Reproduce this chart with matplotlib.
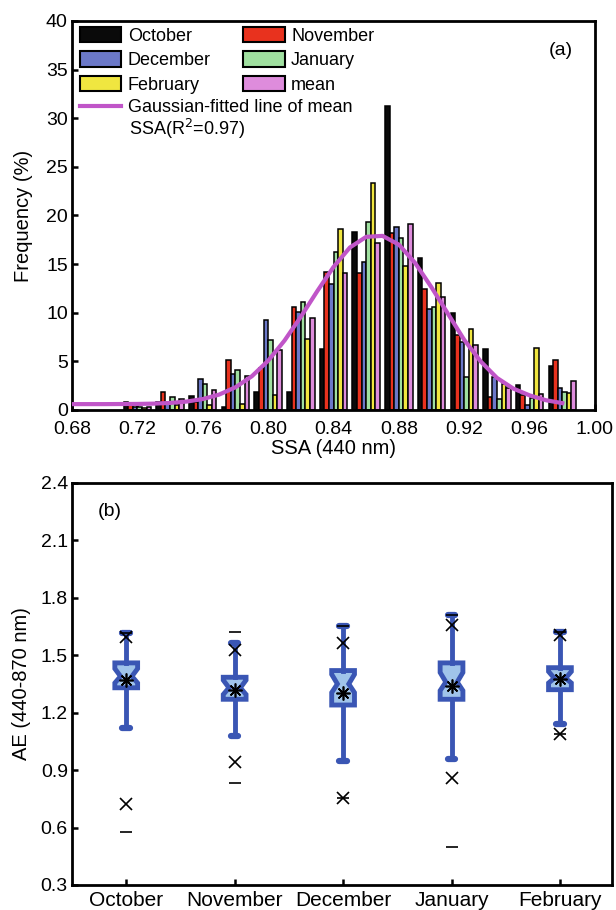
import numpy as np
import matplotlib
matplotlib.use("Agg")
import matplotlib.pyplot as plt
from matplotlib.patches import Patch
from matplotlib.lines import Line2D

plt.rcParams['font.family'] = ['Liberation Sans', 'DejaVu Sans']

# -------------------------
# Panel (a) data: SSA histogram (%)
# -------------------------
ssa_bins = [0.72, 0.74, 0.76, 0.78, 0.80, 0.82, 0.84, 0.86, 0.88, 0.90, 0.92, 0.94, 0.96, 0.98]
freq_oct = [0.8, 0.8, 1.4, 0.3, 1.8, 1.8, 6.3, 18.3, 31.3, 15.6, 10.0, 6.3, 2.6, 4.5]
freq_nov = [0.6, 1.8, 0.8, 5.1, 4.3, 10.6, 14.2, 14.1, 18.2, 12.4, 7.7, 1.3, 1.5, 5.1]
freq_dec = [0.3, 0.8, 3.2, 3.7, 9.3, 10.1, 13.0, 15.2, 18.8, 10.4, 7.0, 3.4, 0.5, 2.3]
freq_jan = [0.3, 1.3, 2.7, 4.1, 7.2, 11.1, 16.2, 19.3, 17.7, 10.6, 3.4, 1.1, 1.2, 1.8]
freq_feb = [0.2, 0.5, 0.5, 0.6, 1.5, 7.3, 18.6, 23.3, 14.8, 13.1, 8.3, 2.7, 6.4, 1.7]
freq_mean = [0.3, 1.1, 2.1, 3.5, 6.2, 9.5, 14.1, 17.2, 19.1, 11.6, 6.7, 2.3, 1.6, 3.0]

# gaussian fit of mean, every 0.01 from 0.68 to 0.98
gauss_y = [0.6, 0.6, 0.6, 0.61, 0.62, 0.65, 0.72, 0.86, 1.12, 1.58,
           2.33, 3.46, 5.06, 7.13, 9.58, 12.2, 14.7, 16.7, 17.8, 17.9,
           17.0, 15.1, 12.6, 9.9, 7.2, 5.0, 3.3, 2.2, 1.5, 1.0, 0.7]
gauss_x = np.linspace(0.68, 0.98, len(gauss_y))

# -------------------------
# Panel (b) data: AE box statistics
# -------------------------
months = ['October', 'November', 'December', 'January', 'February']
ae_q1 = [1.33, 1.27, 1.24, 1.27, 1.32]
ae_q3 = [1.46, 1.385, 1.42, 1.46, 1.435]
ae_med = [1.39, 1.33, 1.35, 1.36, 1.38]
ae_ci_lo = [1.355, 1.295, 1.305, 1.315, 1.355]
ae_ci_hi = [1.43, 1.37, 1.40, 1.41, 1.415]
ae_whis_lo = [1.12, 1.08, 0.945, 0.957, 1.14]
ae_whis_hi = [1.615, 1.563, 1.651, 1.712, 1.621]
ae_mean = [1.37, 1.317, 1.305, 1.34, 1.378]
ae_p1 = [0.722, 0.94, 0.752, 0.86, 1.088]
ae_p99 = [1.595, 1.529, 1.566, 1.66, 1.604]
ae_min = [0.578, 0.834, 0.752, 0.497, 1.088]
ae_max = [1.615, 1.621, 1.651, 1.712, 1.621]

# -------------------------
# Figure
# -------------------------
fig = plt.figure(figsize=(6.16, 9.10), dpi=100)
ax1 = fig.add_axes([0.1169, 0.5495, 0.849, 0.4275])
ax2 = fig.add_axes([0.1169, 0.0275, 0.8766, 0.4418])

series = [freq_oct, freq_nov, freq_dec, freq_jan, freq_feb, freq_mean]
names = ['October', 'November', 'December', 'January', 'February', 'mean']
colors = ['#0a0a0a', '#e8321e', '#6b78c8', '#a0e0a0', '#f0e640', '#de8cdc']

bw = 0.0028
x = np.array(ssa_bins)
for i, (vals, c) in enumerate(zip(series, colors)):
    ax1.bar(x + (i - 2.5) * bw, vals, width=bw, color=c,
            edgecolor='black', linewidth=1.1, zorder=2)

ax1.plot(gauss_x, gauss_y, color='#c055c8', lw=3, zorder=3)

ax1.set_xlim(0.68, 1.00)
ax1.set_ylim(0, 40)
ax1.set_xticks(np.arange(0.68, 1.001, 0.04))
ax1.set_xticklabels([f"{v:.2f}" for v in np.arange(0.68, 1.001, 0.04)])
ax1.set_yticks(np.arange(0, 41, 5))
ax1.set_xlabel("SSA (440 nm)", fontsize=14.5, labelpad=1)
ax1.set_ylabel("Frequency (%)", fontsize=14.5, labelpad=9)
ax1.text(0.935, 0.925, "(a)", transform=ax1.transAxes, fontsize=14,
         ha='center', va='center')

# legend: patches in two columns, then the fit line below
order = [0, 2, 4, 1, 3, 5]
handles = [Patch(facecolor=colors[k], edgecolor='black', linewidth=1.5) for k in order]
leg = ax1.legend(handles, [names[k] for k in order], ncol=2, loc='upper left',
                 bbox_to_anchor=(0.015, 0.985), frameon=False, fontsize=13,
                 handlelength=2.3, handleheight=0.95, handletextpad=0.35,
                 labelspacing=0.36, columnspacing=1.8, borderaxespad=0,
                 borderpad=0)
ax1.add_artist(leg)
line_h = Line2D([0], [0], color='#c055c8', lw=3)
ax1.legend([line_h], ["Gaussian-fitted line of mean"], loc='center left',
           bbox_to_anchor=(0.015, 0.777), frameon=False, fontsize=13,
           handlelength=2.3, handletextpad=0.35, borderaxespad=0, borderpad=0)
ax1.text(0.109, 0.723, "SSA(R$^2$=0.97)", transform=ax1.transAxes,
         fontsize=13, ha='left', va='center')

# -------------------------
# Box plot
# -------------------------
edge = '#3a56b4'
fill = '#a0c4ea'
stats = []
for k in range(len(months)):
    stats.append({'med': ae_med[k], 'q1': ae_q1[k], 'q3': ae_q3[k],
                  'whislo': ae_whis_lo[k], 'whishi': ae_whis_hi[k],
                  'mean': ae_mean[k], 'cilo': ae_ci_lo[k], 'cihi': ae_ci_hi[k],
                  'fliers': []})
pos = np.arange(1, len(months) + 1)
ax2.bxp(stats, positions=pos, widths=0.21, shownotches=True, showmeans=True,
        patch_artist=True, capwidths=0.07,
        boxprops=dict(facecolor=fill, edgecolor=edge, linewidth=3.5),
        whiskerprops=dict(color=edge, linewidth=3.5),
        capprops=dict(color=edge, linewidth=4.5, solid_capstyle='round'),
        medianprops=dict(linewidth=0),
        meanprops=dict(marker=(8, 2, 0), markeredgecolor='black',
                       markerfacecolor='black', markersize=10, markeredgewidth=1.2))

ax2.plot(pos, ae_p1, 'x', color='black', ms=8, mew=1.2, zorder=4)
ax2.plot(pos, ae_p99, 'x', color='black', ms=8, mew=1.2, zorder=4)
ax2.plot(pos, ae_min, '_', color='black', ms=8, mew=1.2, zorder=4)
ax2.plot(pos, ae_max, '_', color='black', ms=8, mew=1.2, zorder=4)

ax2.set_xlim(0.5, 5.48)
ax2.set_ylim(0.3, 2.4)
ax2.set_yticks(np.arange(0.3, 2.41, 0.3))
ax2.set_yticklabels([f"{v:.1f}" for v in np.arange(0.3, 2.41, 0.3)])
ax2.set_xticks(pos)
ax2.set_xticklabels(months, fontsize=15)
ax2.set_ylabel("AE (440-870 nm)", fontsize=14.5, labelpad=7)
ax2.text(0.07, 0.93, "(b)", transform=ax2.transAxes, fontsize=14,
         ha='center', va='center')

for ax in (ax1, ax2):
    for s in ax.spines.values():
        s.set_linewidth(2)
    ax.tick_params(direction='in', length=4, width=1.8, labelsize=14,
                   top=False, right=False, pad=3)
ax1.tick_params(axis='x', pad=8)
ax2.tick_params(axis='x', labelsize=15, pad=4)

fig.savefig("out.png", dpi=100)
